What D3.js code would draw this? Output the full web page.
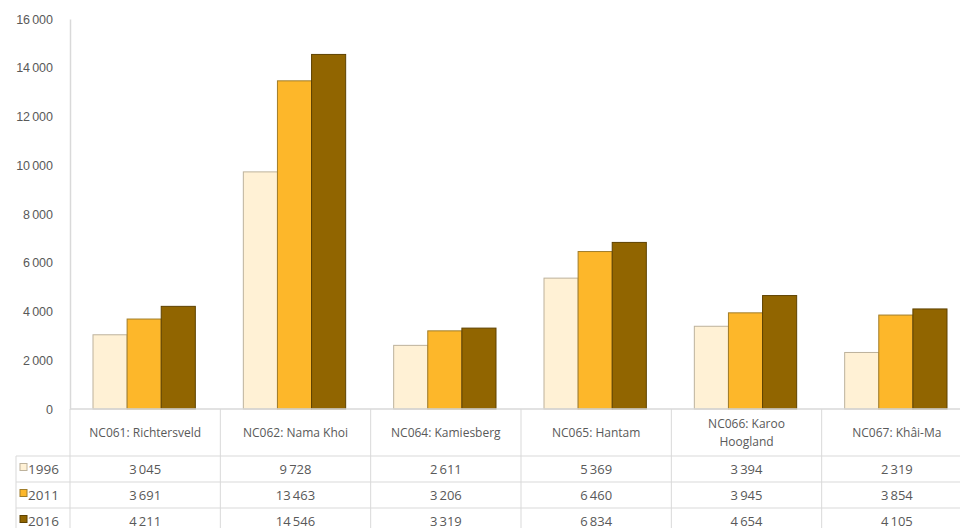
<!DOCTYPE html>
<html><head><meta charset="utf-8">
<script src="https://cdn.jsdelivr.net/npm/d3@7"></script>
<style>body{margin:0;background:#fff;}svg{display:block;font-family:"Open Sans","Liberation Sans",sans-serif;}</style>
</head><body>
<svg id="c" width="960" height="528"></svg>
<script>
const categories = ["NC061: Richtersveld","NC062: Nama Khoi","NC064: Kamiesberg","NC065: Hantam","NC066: Karoo Hoogland","NC067: Khâi-Ma"];
const categoryLines = [["NC061: Richtersveld"],["NC062: Nama Khoi"],["NC064: Kamiesberg"],["NC065: Hantam"],["NC066: Karoo","Hoogland"],["NC067: Khâi-Ma"]];
const seriesNames = ["1996","2011","2016"];
const values1996 = [3045,9728,2611,5369,3394,2319];
const values2011 = [3691,13463,3206,6460,3945,3854];
const values2016 = [4211,14546,3319,6834,4654,4105];
const yTicks = [0,2000,4000,6000,8000,10000,12000,14000,16000];
const colors = ["#FFF1D5","#FDB72A","#916500"];
const strokes = ["#bdb29c","#a07d2a","#5e4200"];

const series = [values1996, values2011, values2016];
const svg = d3.select("#c");
const pLeft = 70, pRight = 972, pTop = 19, pBottom = 409;
const fmt = v => d3.format(",")(v).replace(/,/g, "\u2006");

const x = d3.scaleBand().domain(categories).range([pLeft, pRight]).paddingInner(0).paddingOuter(0);
const inner = d3.scaleBand().domain(seriesNames).range([23, x.bandwidth() - 25]).padding(0);
const y = d3.scaleLinear().domain([0, 16000]).range([pBottom, pTop]);

const grey = "#d9d9d9", txt = "#595959";

// y axis
const yAxis = d3.axisLeft(y).tickValues(yTicks).tickSize(0).tickPadding(17).tickFormat(fmt);
const ya = svg.append("g").attr("transform", `translate(${pLeft},0)`).call(yAxis);
ya.select(".domain").attr("stroke", grey).attr("stroke-width", 1.5);
ya.selectAll("text").attr("fill", txt).attr("font-size", 12.5).attr("font-family", null);

// bars
series.forEach((vals, si) => {
  svg.append("g").selectAll("rect").data(vals).join("rect")
    .attr("x", (d, i) => x(categories[i]) + inner(seriesNames[si]))
    .attr("y", d => y(d))
    .attr("width", inner.bandwidth())
    .attr("height", d => pBottom - y(d))
    .attr("fill", colors[si])
    .attr("stroke", strokes[si])
    .attr("stroke-width", 1);
});

// table
const tbl = svg.append("g");
const rowTops = [409, 456, 482, 508, 534];
tbl.append("line").attr("x1", pLeft).attr("x2", 960).attr("y1", 409).attr("y2", 409).attr("stroke", grey).attr("stroke-width", 1.5);
[456, 482, 508].forEach(yy => tbl.append("line").attr("x1", 16).attr("x2", 960).attr("y1", yy).attr("y2", yy).attr("stroke", grey));
categories.forEach(c => {
  tbl.append("line").attr("x1", x(c)).attr("x2", x(c)).attr("y1", 409).attr("y2", 528).attr("stroke", grey);
});
tbl.append("line").attr("x1", 16).attr("x2", 16).attr("y1", 456).attr("y2", 528).attr("stroke", grey);

categoryLines.forEach((lines, i) => {
  const cx = x(categories[i]) + x.bandwidth() / 2;
  const n = lines.length;
  lines.forEach((ln, j) => {
    tbl.append("text").attr("x", cx).attr("y", 432.5 + (j - (n - 1) / 2) * 18 + 4)
      .attr("text-anchor", "middle").attr("fill", txt).attr("font-size", 12).text(ln);
  });
});

series.forEach((vals, si) => {
  const cy = (rowTops[si + 1] + rowTops[si + 2]) / 2 + 4.5;
  tbl.append("rect").attr("x", 20).attr("y", cy - 10).attr("width", 7).attr("height", 7)
    .attr("fill", colors[si]).attr("stroke", strokes[si]);
  tbl.append("text").attr("x", 28).attr("y", cy).attr("fill", txt).attr("font-size", 13.5).text(seriesNames[si]);
  vals.forEach((v, i) => {
    tbl.append("text").attr("x", x(categories[i]) + x.bandwidth() / 2).attr("y", cy)
      .attr("text-anchor", "middle").attr("fill", txt).attr("font-size", 13).text(fmt(v));
  });
});
</script>
</body></html>
